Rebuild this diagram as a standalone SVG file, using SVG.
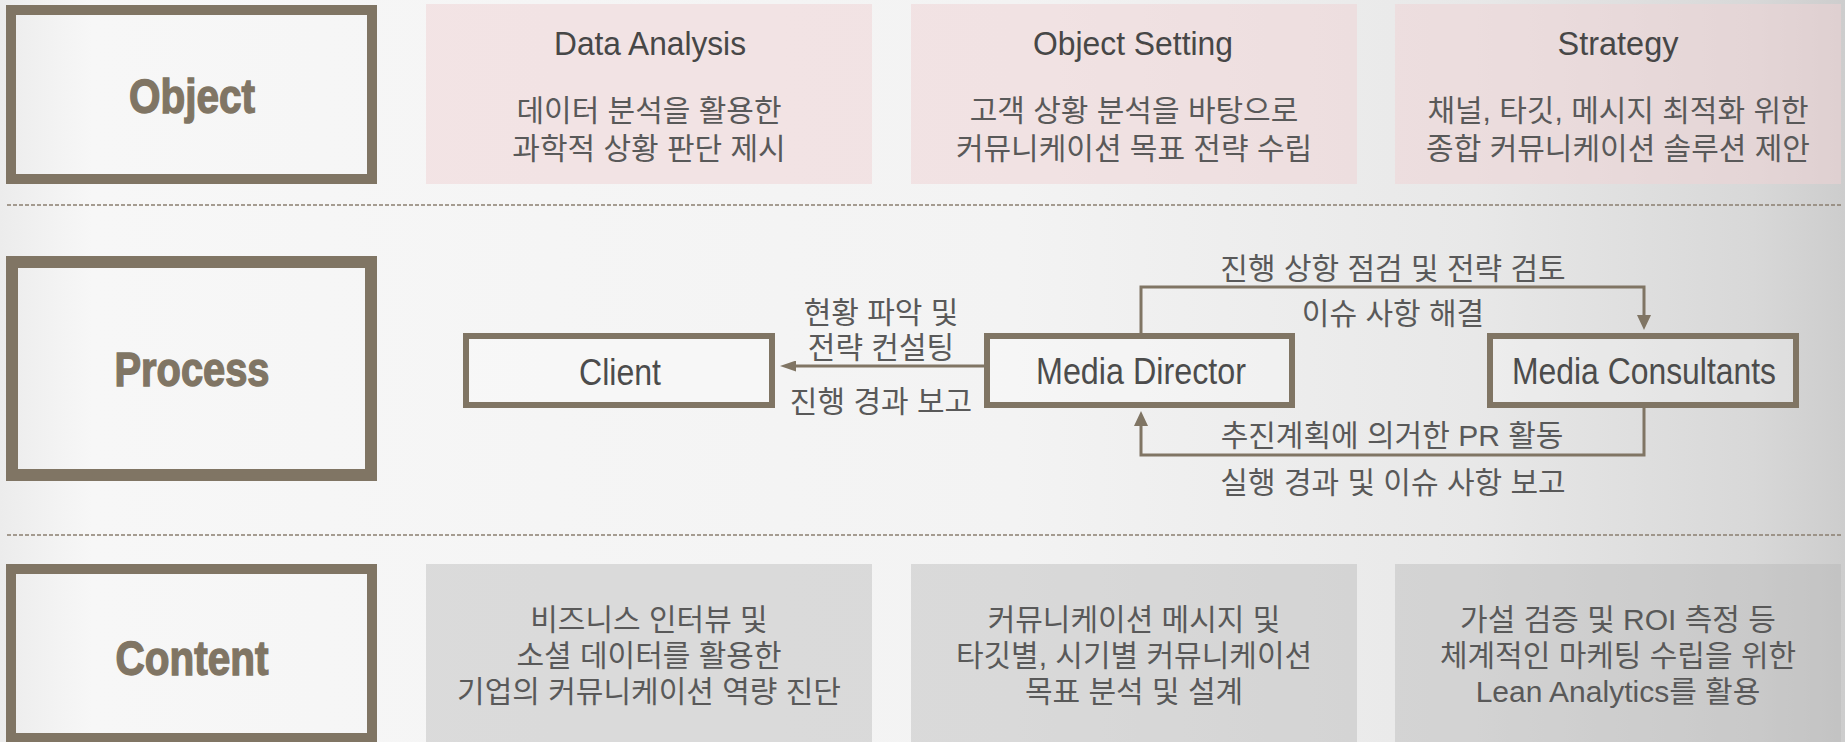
<svg xmlns="http://www.w3.org/2000/svg" width="1845" height="742" viewBox="0 0 1845 742">
<defs>
<linearGradient id="bg" x1="0" y1="0" x2="1" y2="0">
<stop offset="0" stop-color="#ececec"/>
<stop offset="0.05" stop-color="#f7f7f7"/>
<stop offset="0.55" stop-color="#f3f3f3"/>
<stop offset="0.8" stop-color="#e8e8e8"/>
<stop offset="0.95" stop-color="#d8d8d8"/>
<stop offset="1" stop-color="#cdcdcd"/>
</linearGradient>
<marker id="arrH" markerUnits="userSpaceOnUse" markerWidth="16" markerHeight="11" viewBox="0 0 16 11" refX="1" refY="5.5" orient="auto">
<path d="M0,0 L16,5.5 L0,11 z" fill="#807564"/>
</marker>
<marker id="arrV" markerUnits="userSpaceOnUse" markerWidth="15" markerHeight="14" viewBox="0 0 15 14" refX="1" refY="7" orient="auto">
<path d="M0,0 L15,7 L0,14 z" fill="#807564"/>
</marker>
<style>
.frame{fill:none;stroke:#807564}
.big{font-family:"Liberation Sans",Arial,sans-serif;font-weight:bold;font-size:48px;fill:#807564;stroke:#807564;stroke-width:1.4;text-anchor:middle}
.ttl{font-family:"Liberation Sans",Arial,sans-serif;font-size:33px;fill:#474747;text-anchor:middle}
.nd{font-family:"Liberation Sans",Arial,sans-serif;font-size:37px;fill:#4c4c4c;text-anchor:middle}
.kr{font-family:"Liberation Sans","Noto Sans CJK KR",sans-serif;font-size:30px;fill:#595959;text-anchor:middle}
.pink{fill:#f0d2d4;fill-opacity:0.52}
.gray{fill:#b4b4b4;fill-opacity:0.42}
.box{fill:#ffffff;fill-opacity:0.25;stroke:#807564;stroke-width:6}
.con{fill:none;stroke:#807564;stroke-width:3}
.dash{stroke:#8a7f70;stroke-width:1.5;stroke-dasharray:4 2}
</style>
</defs>
<rect x="0" y="0" width="1845" height="742" fill="url(#bg)"/>

<g id="dividers">
<line class="dash" x1="7" y1="205" x2="1841" y2="205"/>
<line class="dash" x1="7" y1="535" x2="1841" y2="535"/>
</g>

<g id="row-object">
<g id="label-object">
<rect class="frame" x="11" y="10" width="361" height="169" stroke-width="10"/>
<text class="big" x="192" y="113" textLength="126" lengthAdjust="spacingAndGlyphs">Object</text>
</g>
<g id="obj-data-analysis">
<rect class="pink" x="426" y="4" width="446" height="180"/>
<text class="ttl" x="650" y="55" textLength="192" lengthAdjust="spacingAndGlyphs">Data Analysis</text>
<text class="kr" x="649" y="121">데이터 분석을 활용한</text>
<text class="kr" x="649" y="159">과학적 상황 판단 제시</text>
</g>
<g id="obj-object-setting">
<rect class="pink" x="911" y="4" width="446" height="180"/>
<text class="ttl" x="1133" y="55" textLength="200" lengthAdjust="spacingAndGlyphs">Object Setting</text>
<text class="kr" x="1134" y="121">고객 상황 분석을 바탕으로</text>
<text class="kr" x="1134" y="159">커뮤니케이션 목표 전략 수립</text>
</g>
<g id="obj-strategy">
<rect class="pink" x="1395" y="4" width="446" height="180"/>
<text class="ttl" x="1618" y="55" textLength="121" lengthAdjust="spacingAndGlyphs">Strategy</text>
<text class="kr" x="1618" y="121">채널, 타깃, 메시지 최적화 위한</text>
<text class="kr" x="1618" y="159">종합 커뮤니케이션 솔루션 제안</text>
</g>
</g>

<g id="row-process">
<g id="label-process">
<rect class="frame" x="12" y="262" width="359" height="213" stroke-width="12"/>
<text class="big" x="192" y="386" textLength="155" lengthAdjust="spacingAndGlyphs">Process</text>
</g>
</g>

<g id="connectors">
<path class="con" d="M984,366 H795" marker-end="url(#arrH)"/>
<path class="con" d="M1141,336 V287 H1644 V316" marker-end="url(#arrV)"/>
<path class="con" d="M1644,405 V455 H1141 V425" marker-end="url(#arrV)"/>
<text class="kr" x="881" y="323">현황 파악 및</text>
<text class="kr" x="881" y="358">전략 컨설팅</text>
<text class="kr" x="881" y="412">진행 경과 보고</text>
<text class="kr" x="1393" y="279">진행 상항 점검 및 전략 검토</text>
<text class="kr" x="1393" y="324">이슈 사항 해결</text>
<text class="kr" x="1392" y="446">추진계획에 의거한 PR 활동</text>
<text class="kr" x="1393" y="493">실행 경과 및 이슈 사항 보고</text>
</g>

<g id="node-client">
<rect class="box" x="466" y="336" width="306" height="69"/>
<text class="nd" x="620" y="385" textLength="82" lengthAdjust="spacingAndGlyphs">Client</text>
</g>
<g id="node-media-director">
<rect class="box" x="987" y="336" width="305" height="69"/>
<text class="nd" x="1141" y="384" textLength="210" lengthAdjust="spacingAndGlyphs">Media Director</text>
</g>
<g id="node-media-consultants">
<rect class="box" x="1490" y="336" width="306" height="69"/>
<text class="nd" x="1644" y="384" textLength="264" lengthAdjust="spacingAndGlyphs">Media Consultants</text>
</g>

<g id="row-content">
<g id="label-content">
<rect class="frame" x="11" y="569" width="361" height="169" stroke-width="10"/>
<text class="big" x="192" y="675" textLength="153" lengthAdjust="spacingAndGlyphs">Content</text>
</g>
<g id="content-1">
<rect class="gray" x="426" y="564" width="446" height="178"/>
<text class="kr" x="649" y="630">비즈니스 인터뷰 및</text>
<text class="kr" x="649" y="666">소셜 데이터를 활용한</text>
<text class="kr" x="649" y="702">기업의 커뮤니케이션 역량 진단</text>
</g>
<g id="content-2">
<rect class="gray" x="911" y="564" width="446" height="178"/>
<text class="kr" x="1134" y="630">커뮤니케이션 메시지 및</text>
<text class="kr" x="1134" y="666">타깃별, 시기별 커뮤니케이션</text>
<text class="kr" x="1134" y="702">목표 분석 및 설계</text>
</g>
<g id="content-3">
<rect class="gray" x="1395" y="564" width="446" height="178"/>
<text class="kr" x="1618" y="630">가설 검증 및 ROI 측정 등</text>
<text class="kr" x="1618" y="666">체계적인 마케팅 수립을 위한</text>
<text class="kr" x="1618" y="702">Lean Analytics를 활용</text>
</g>
</g>
</svg>
